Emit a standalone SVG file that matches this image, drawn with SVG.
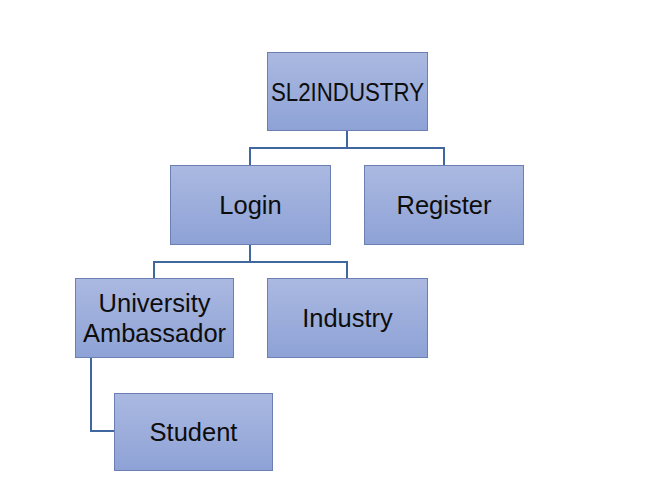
<svg xmlns="http://www.w3.org/2000/svg" width="655" height="497" viewBox="0 0 655 497">
<defs>
<linearGradient id="g" x1="0" y1="0" x2="0" y2="1">
<stop offset="0" stop-color="#abb9e1"/>
<stop offset="1" stop-color="#8ea2d6"/>
</linearGradient>
<style>
.box{fill:url(#g);stroke:#6b7fb3;stroke-width:1}
.t{font-family:"Liberation Sans",Arial,sans-serif;font-size:25.5px;fill:#0d0d0d;text-anchor:middle}
.c{fill:none;stroke:#4067a0;stroke-width:2}
</style>
</defs>
<rect width="655" height="497" fill="#fff"/>
<g id="connectors">
<path class="c" d="M347 131V148M250 165V148H444V165"/>
<path class="c" d="M250 245V262M154 278V262H347V278"/>
<path class="c" d="M91 358V431H114"/>
</g>
<g id="sl2industry"><rect class="box" x="267.5" y="52.5" width="160" height="78"/><text class="t" x="347.5" y="101" textLength="153" lengthAdjust="spacingAndGlyphs">SL2INDUSTRY</text></g>
<g id="login"><rect class="box" x="170.5" y="165.5" width="160" height="79"/><text class="t" x="250.5" y="214">Login</text></g>
<g id="register"><rect class="box" x="364.5" y="165.5" width="159" height="79"/><text class="t" x="444" y="214">Register</text></g>
<g id="ua"><rect class="box" x="75.5" y="278.5" width="158" height="79"/><text class="t" x="154.5" y="312">University</text><text class="t" x="154.5" y="342">Ambassador</text></g>
<g id="industry"><rect class="box" x="267.5" y="278.5" width="160" height="79"/><text class="t" x="347.5" y="327">Industry</text></g>
<g id="student"><rect class="box" x="114.5" y="393.5" width="158" height="77"/><text class="t" x="193.5" y="441">Student</text></g>
</svg>
